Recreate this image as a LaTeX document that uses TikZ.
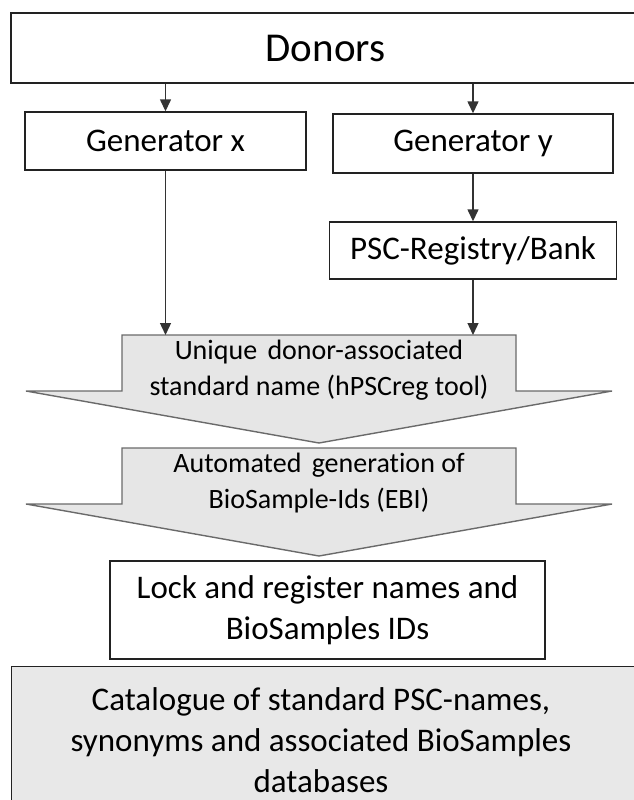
\documentclass[tikz,border=0pt]{standalone}
\usepackage{fontspec}
\setmainfont{Carlito}[Ligatures=NoCommon]
\usetikzlibrary{arrows.meta}
\definecolor{boxline}{HTML}{222222}
\definecolor{shapeline}{HTML}{6A6A6A}
\definecolor{shapefill}{HTML}{E6E6E6}
\definecolor{catfill}{HTML}{E8E8E8}
\definecolor{conn}{HTML}{333333}
\tikzset{
  box/.style={draw=boxline, line width=1.4pt, fill=white, inner sep=0pt, align=center},
  bigarrow/.style={draw=shapeline, line width=1.4pt, fill=shapefill, line join=miter},
  arr/.style={draw=conn, line width=1.4pt, -{Triangle[length=12pt,width=11pt]}},
  bodytext/.style={font=\fontsize{33}{41}\selectfont},
  arrowtext/.style={font=\fontsize{28}{36}\selectfont, align=center, inner sep=0pt},
}
\begin{document}
\begin{tikzpicture}[x=1pt,y=-1pt]
\useasboundingbox (0,0) rectangle (634,800);
\clip (0,0) rectangle (634,800);

% Donors
\node[box, minimum width=629pt, minimum height=70pt, font=\fontsize{41}{48}\selectfont] (dn) at (325.5,48) {Donors};

% Generators
\node[box, bodytext, minimum width=281pt, minimum height=58pt] (gx) at (165.5,141) {Generator x};
\node[box, bodytext, minimum width=280pt, minimum height=59pt] (gy) at (473,143.5) {Generator y};

% PSC registry
\node[box, bodytext, minimum width=287pt, minimum height=57pt] (psc) at (473,250.5) {PSC-Registry/Bank};

% Big arrow 1
\draw[bigarrow] (122,335) -- (516,335) -- (516,391) -- (612,391) -- (319,443) -- (26,391) -- (122,391) -- cycle;
\coordinate (a1top) at (319,335);
\node[arrowtext] (a1) at (319,370) {Unique\hspace{4pt} donor-associated\\standard name (hPSCreg tool)};

% Big arrow 2
\draw[bigarrow] (122,448) -- (516,448) -- (516,504) -- (612,504) -- (319,556) -- (26,504) -- (122,504) -- cycle;
\node[arrowtext] (a2) at (319,483) {Automated\hspace{4pt} generation of\\BioSample-Ids (EBI)};

% Lock box
\node[box, bodytext, minimum width=435pt, minimum height=98pt] (lock) at (327.5,610) {Lock and register names and\\BioSamples IDs};

% Catalogue
\node[box, bodytext, fill=catfill, minimum width=629pt, minimum height=150pt, anchor=north west] (cat) at (11,666) {};
\node[bodytext, align=center, inner sep=0pt] (cattext) at (321,740) {Catalogue of standard PSC-names,\\synonyms and associated BioSamples\\databases};

% Connectors
\draw[arr] (dn.south -| gx.north) -- (gx.north);
\draw[arr] (dn.south -| gy.north) -- (gy.north);
\draw[arr] (gy.south) -- (psc.north);
\draw[arr] (gx.south) -- (gx.south |- a1top);
\draw[arr] (psc.south) -- (psc.south |- a1top);
\end{tikzpicture}
\end{document}
